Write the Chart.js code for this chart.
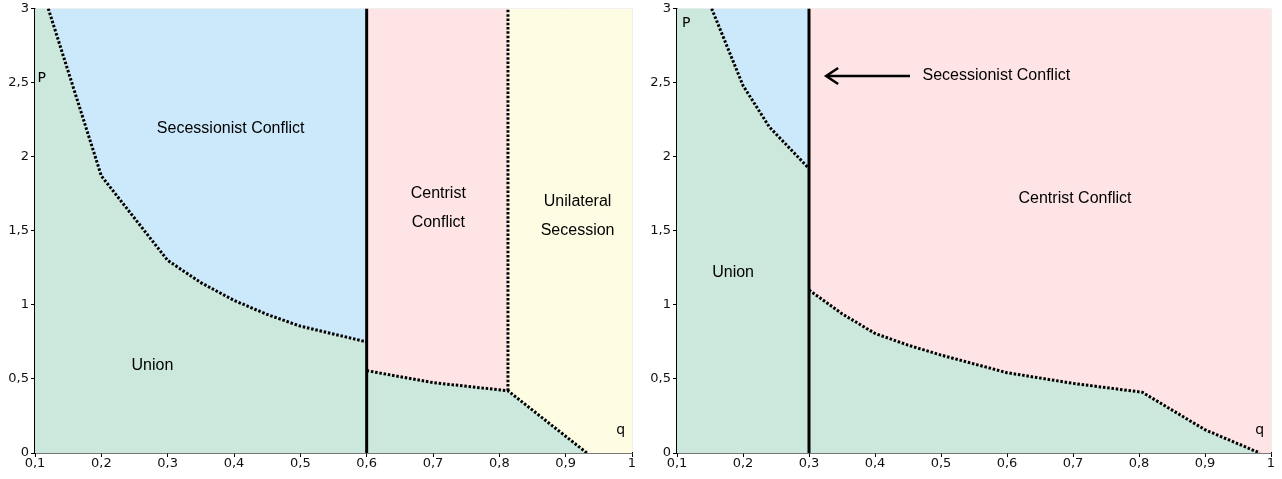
<!DOCTYPE html>
<html>
<head>
<meta charset="utf-8">
<script src="https://cdn.jsdelivr.net/npm/chart.js@4/dist/chart.umd.min.js"></script>
<style>
    html, body { margin: 0; padding: 0; background: #fff; }
    .box { position: absolute; top: 0; height: 479px; }
    #leftBox { left: 0; width: 640px; }
    #rightBox { left: 640px; width: 642px; }
</style>
</head>
<body>
<div class="box" id="leftBox"><canvas id="leftChart"></canvas></div>
<div class="box" id="rightBox"><canvas id="rightChart"></canvas></div>
<script>
// Left panel: boundary between Union and Secessionist Conflict
const leftUpperQ = [0.12, 0.2, 0.3, 0.35, 0.4, 0.45, 0.5, 0.6];
const leftUpperP = [3, 1.87, 1.30, 1.15, 1.03, 0.935, 0.856, 0.75];
// Left panel: lower boundary of Union on the right side
const leftLowerQ = [0.6, 0.7, 0.813, 0.932];
const leftLowerP = [0.556, 0.475, 0.42, 0];
const leftSplitQ = 0.6;          // solid vertical line
const leftSecessionQ = 0.813;    // dotted vertical line

// Right panel
const rightUpperQ = [0.1525, 0.2, 0.24, 0.3];
const rightUpperP = [3, 2.48, 2.2, 1.92];
const rightLowerQ = [0.3, 0.35, 0.4, 0.45, 0.5, 0.6, 0.7, 0.805, 0.9, 0.983];
const rightLowerP = [1.10, 0.94, 0.807, 0.728, 0.661, 0.542, 0.47, 0.41, 0.157, 0];
const rightSplitQ = 0.3;

// Axis ranges and tick labels
const qMin = 0.1, qMax = 1, pMin = 0, pMax = 3;
const xTickLabels = ['0,1', '0,2', '0,3', '0,4', '0,5', '0,6', '0,7', '0,8', '0,9', '1'];
const yTickLabels = ['0', '0,5', '1', '1,5', '2', '2,5', '3'];

// Colours
const colors = {
    union: 'rgb(204, 232, 220)',
    secession: 'rgb(204, 233, 252)',
    centrist: 'rgb(254, 228, 229)',
    unilateral: 'rgb(254, 253, 228)',
};

/**
 * Zip two arrays into {x, y} points
 */
function zip(qs, ps) {
    var pts = [];
    for (var i = 0; i < qs.length; ++i) {
        pts.push({ x: qs[i], y: ps[i] });
    }
    return pts;
}

function band(q0, q1, color) {
    return {
        data: [{ x: q0, y: pMax }, { x: q1, y: pMax }],
        backgroundColor: color, borderWidth: 0, fill: 'origin', order: 10,
    };
}

function dotted(points) {
    return {
        data: points, borderColor: '#000', borderWidth: 3,
        borderDash: [2.5, 1.8], fill: false, order: 1,
    };
}

function solid(q) {
    return {
        data: [{ x: q, y: pMin }, { x: q, y: pMax }],
        borderColor: '#000', borderWidth: 3, fill: false, order: 0,
    };
}

// Text labels placed in data coordinates
const leftLabels = [
    { text: ['Secessionist Conflict'], q: 0.395, p: 2.19 },
    { text: ['Union'], q: 0.277, p: 0.59 },
    { text: ['Centrist', 'Conflict'], q: 0.708, p: 1.655 },
    { text: ['Unilateral', 'Secession'], q: 0.918, p: 1.60 },
];
const rightLabels = [
    { text: ['Union'], q: 0.185, p: 1.22 },
    { text: ['Centrist Conflict'], q: 0.703, p: 1.72 },
    { text: ['Secessionist Conflict'], q: 0.472, p: 2.545, align: 'left' },
];

const labelPlugin = {
    id: 'labels',
    afterDatasetsDraw(chart, args, opts) {
        const ctx = chart.ctx, xs = chart.scales.x, ys = chart.scales.y;
        ctx.save();
        ctx.fillStyle = '#000';
        ctx.font = '16px "Liberation Sans", Arial, sans-serif';
        ctx.textBaseline = 'middle';
        opts.items.forEach(function (it) {
            ctx.textAlign = it.align || 'center';
            var x = xs.getPixelForValue(it.q), y = ys.getPixelForValue(it.p);
            var lh = 29, y0 = y - (it.text.length - 1) * lh / 2;
            it.text.forEach(function (t, i) { ctx.fillText(t, x, y0 + i * lh); });
        });
        // axis letters
        ctx.font = '14px "DejaVu Sans", sans-serif';
        ctx.textAlign = 'center';
        ctx.fillText('P', xs.getPixelForValue(opts.pq), ys.getPixelForValue(opts.pp));
        ctx.fillText('q', xs.getPixelForValue(0.983), ys.getPixelForValue(0.15));
        // arrow
        if (opts.arrow) {
            var a = opts.arrow;
            var x1 = xs.getPixelForValue(a.from), x2 = xs.getPixelForValue(a.to), y = ys.getPixelForValue(a.p);
            ctx.strokeStyle = '#000';
            ctx.lineWidth = 2.5;
            ctx.beginPath();
            ctx.moveTo(x1, y);
            ctx.lineTo(x2 + 1, y);
            ctx.stroke();
            ctx.beginPath();
            ctx.moveTo(x2 + 12, y - 8);
            ctx.lineTo(x2, y);
            ctx.lineTo(x2 + 12, y + 8);
            ctx.stroke();
        }
        ctx.restore();
    }
};

function makeOptions(yWidth, padRight, labelOpts) {
    return {
        responsive: true,
        maintainAspectRatio: false,
        animation: false,
        layout: { padding: { top: 7, right: padRight, left: 0, bottom: 0 } },
        elements: { point: { radius: 0 }, line: { tension: 0 } },
        plugins: { legend: { display: false }, tooltip: { enabled: false }, labels: labelOpts },
        scales: {
            x: {
                type: 'linear', min: qMin, max: qMax, z: 1,
                afterBuildTicks: function (s) {
                    s.ticks = xTickLabels.map(function (l, i) { return { value: qMin + i * 0.1 }; });
                },
                ticks: {
                    autoSkip: false, maxRotation: 0, padding: 0, color: '#111',
                    font: { family: '"DejaVu Sans", sans-serif', size: 13, lineHeight: 1 },
                    callback: function (v, i) { return xTickLabels[i]; }
                },
                grid: { color: 'rgba(0,0,0,0.065)', tickColor: '#000', tickLength: 4 },
                border: { color: '#000', width: 1.5 },
                afterFit: function (s) { s.height = 26; }
            },
            y: {
                type: 'linear', min: pMin, max: pMax, z: 1,
                afterBuildTicks: function (s) {
                    s.ticks = yTickLabels.map(function (l, i) { return { value: i * 0.5 }; });
                },
                ticks: {
                    autoSkip: false, padding: 2, color: '#111',
                    font: { family: '"DejaVu Sans", sans-serif', size: 13, lineHeight: 1 },
                    callback: function (v, i) { return yTickLabels[i]; }
                },
                grid: { color: 'rgba(0,0,0,0.065)', tickColor: '#000', tickLength: 4 },
                border: { color: '#000', width: 1.5 },
                afterFit: function (s) { s.width = yWidth; }
            }
        }
    };
}

// Left chart
var leftUnion = [{ x: qMin, y: pMax }]
    .concat(zip(leftUpperQ, leftUpperP))
    .concat(zip(leftLowerQ, leftLowerP))
    .concat([{ x: qMax, y: 0 }]);

new Chart(document.getElementById('leftChart'), {
    type: 'scatter',
    data: {
        datasets: [
            solid(leftSplitQ),
            dotted(zip(leftUpperQ, leftUpperP)),
            dotted(zip(leftLowerQ, leftLowerP)),
            dotted([{ x: leftSecessionQ, y: leftLowerP[2] }, { x: leftSecessionQ, y: pMax }]),
            { data: leftUnion, backgroundColor: colors.union, borderWidth: 0, fill: 'origin', order: 5 },
            band(qMin, leftSplitQ, colors.secession),
            band(leftSplitQ, leftSecessionQ, colors.centrist),
            band(leftSecessionQ, qMax, colors.unilateral),
        ].map(function (d) { d.showLine = true; return d; })
    },
    options: makeOptions(35, 8, { items: leftLabels, pq: 0.11, pp: 2.53 }),
    plugins: [labelPlugin]
});

// Right chart
var rightUnion = [{ x: qMin, y: pMax }]
    .concat(zip(rightUpperQ, rightUpperP))
    .concat(zip(rightLowerQ, rightLowerP))
    .concat([{ x: qMax, y: 0 }]);

new Chart(document.getElementById('rightChart'), {
    type: 'scatter',
    data: {
        datasets: [
            solid(rightSplitQ),
            dotted(zip(rightUpperQ, rightUpperP)),
            dotted(zip(rightLowerQ, rightLowerP)),
            { data: rightUnion, backgroundColor: colors.union, borderWidth: 0, fill: 'origin', order: 5 },
            band(qMin, rightSplitQ, colors.secession),
            band(rightSplitQ, qMax, colors.centrist),
        ].map(function (d) { d.showLine = true; return d; })
    },
    options: makeOptions(37, 11, {
        items: rightLabels, pq: 0.114, pp: 2.9,
        arrow: { from: 0.453, to: 0.326, p: 2.545 }
    }),
    plugins: [labelPlugin]
});
</script>
</body>
</html>
